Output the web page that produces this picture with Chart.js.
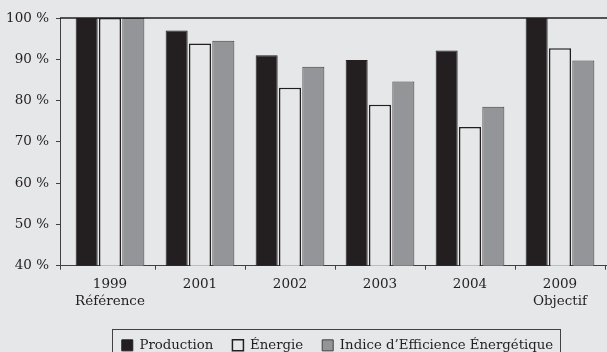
<!DOCTYPE html>
<html lang="fr">
<head>
<meta charset="utf-8">
<title>Production, énergie et efficience</title>
<script src="https://cdn.jsdelivr.net/npm/chart.js@4"></script>
<style>
  html, body { margin: 0; padding: 0; background: #e6e7e8; overflow: hidden; }
  canvas { display: block; }
</style>
</head>
<body>
<canvas id="barChart" width="607" height="362"></canvas>
<script>
const annees = [["1999", "Référence"], "2001", "2002", "2003", "2004", ["2009", "Objectif"]];
const production = [100, 97, 91, 89.8, 92.1, 100];
const energie = [100, 93.8, 83.1, 79, 73.6, 92.7];
const indiceEfficience = [100, 94.5, 88.2, 84.6, 78.5, 89.7];

const noir = "#231f20";
const fond = "#e6e7e8";
const gris = "#939598";
const trait = "#414042";

Chart.defaults.font.family = "'DejaVu Serif', serif";
Chart.defaults.font.size = 13.5;
Chart.defaults.color = noir;

// les catégories commencent un peu après l'axe vertical, la légende est décalée à droite
const decalages = {
  id: "decalages",
  afterLayout: (chart) => {
    const x = chart.scales.x;
    x._startPixel = x.left + 5;
    x._length = x.right - x.left - 7;
    chart.legend.left += 4;
    chart.legend.right += 4;
  }
};

// ligne du haut du graphique + cadre autour de la légende
const cadres = {
  id: "cadres",
  afterDraw: (chart) => {
    const ctx = chart.ctx;
    const area = chart.chartArea;
    ctx.save();
    ctx.strokeStyle = noir;
    ctx.lineWidth = 1.5;
    ctx.beginPath();
    ctx.moveTo(area.left, area.top);
    ctx.lineTo(chart.width, area.top);
    ctx.stroke();

    // petit trait sous l'axe vertical
    ctx.lineWidth = 1;
    ctx.strokeStyle = trait;
    ctx.beginPath();
    ctx.moveTo(area.left + 0.5, area.bottom);
    ctx.lineTo(area.left + 0.5, area.bottom + 4);
    ctx.stroke();

    const boites = chart.legend.legendHitBoxes;
    if (boites && boites.length) {
      const premier = boites[0];
      const dernier = boites[boites.length - 1];
      const gauche = premier.left - 10;
      const droite = dernier.left + dernier.width + 7;
      ctx.strokeRect(Math.round(gauche) + 0.5, 329.5, Math.round(droite - gauche), 60);
    }
    ctx.restore();
  }
};

new Chart(document.getElementById("barChart"), {
  type: "bar",
  data: {
    labels: annees,
    datasets: [
      { label: "Production", data: production, backgroundColor: noir, borderColor: noir, borderWidth: 1 },
      { label: "Énergie", data: energie, backgroundColor: fond, borderColor: noir, borderWidth: 1.5 },
      { label: "Indice d’Efficience Énergétique", data: indiceEfficience, backgroundColor: gris, borderColor: trait, borderWidth: 1 }
    ]
  },
  options: {
    responsive: false,
    animation: false,
    layout: { padding: { top: 18, right: 0, left: 0, bottom: 0 } },
    datasets: {
      bar: { categoryPercentage: 0.778, barPercentage: 0.943 }
    },
    plugins: {
      tooltip: { enabled: false },
      legend: {
        position: "bottom",
        fullSize: false,
        labels: {
          boxWidth: 11,
          boxHeight: 11,
          padding: 19,
          color: noir,
          font: { size: 13.3 }
        }
      }
    },
    scales: {
      x: {
        offset: true,
        afterFit: (scale) => { scale.height = 54; },
        grid: {
          display: true,
          drawOnChartArea: false,
          tickLength: 4,
          color: (c) => (c.index === 0 ? "rgba(0,0,0,0)" : trait)
        },
        border: { color: trait, width: 1 },
        ticks: { padding: 6, maxRotation: 0, font: { size: 13.5, lineHeight: 1.25 } }
      },
      y: {
        min: 40,
        max: 100,
        afterFit: (scale) => { scale.width = 60; },
        grid: { display: true, drawOnChartArea: false, tickLength: 4, color: trait },
        border: { color: trait, width: 1 },
        ticks: {
          stepSize: 10,
          padding: 7,
          callback: (v) => `${v} %`
        }
      }
    }
  },
  plugins: [decalages, cadres]
});
</script>
</body>
</html>
